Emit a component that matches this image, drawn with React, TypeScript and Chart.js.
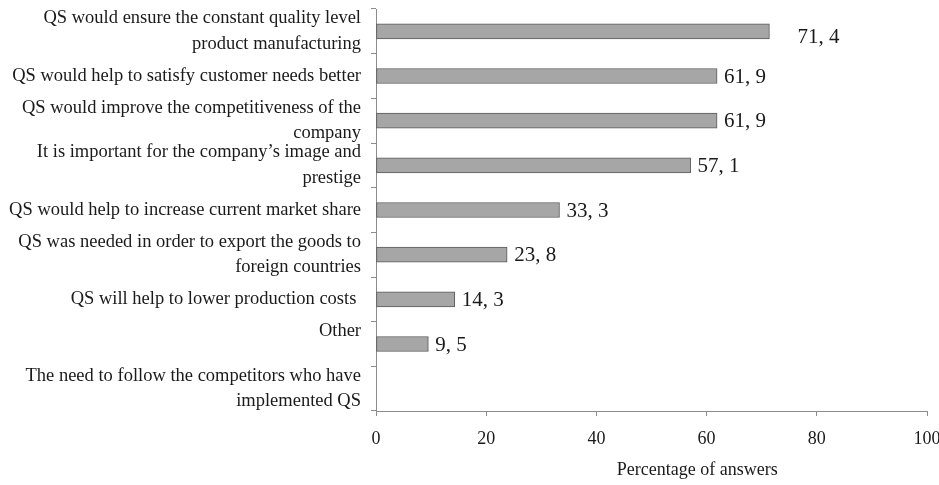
import React, { useEffect, useRef } from "react";
import { Chart, registerables } from "chart.js";

Chart.register(...registerables);

const categories: (string | string[])[] = [
  ["QS would ensure the constant quality level", "product manufacturing"],
  "QS would help to satisfy customer needs better",
  ["QS would improve the competitiveness of the", "company"],
  ["It is important for the company\u2019s image and", "prestige"],
  "QS would help to increase current market share",
  ["QS was needed in order to export the goods to", "foreign countries"],
  "QS will help to lower production costs ",
  ["Other", ""],
  ["The need to follow the competitors who have", "implemented QS"],
];

const values: (number | null)[] = [71.4, 61.9, 61.9, 57.1, 33.3, 23.8, 14.3, 9.5, null];

const xTicks = [0, 20, 40, 60, 80, 100];
const xTitle = "Percentage of answers";

const FONT = "'Liberation Serif', 'Times New Roman', serif";

const valueLabels = {
  id: "valueLabels",
  afterDatasetsDraw(chart: any) {
    const ctx = chart.ctx;
    const meta = chart.getDatasetMeta(0);
    ctx.save();
    ctx.font = `21px ${FONT}`;
    ctx.fillStyle = "#1a1a1a";
    ctx.textBaseline = "middle";
    ctx.textAlign = "left";
    meta.data.forEach((bar: any, i: number) => {
      const v = values[i];
      if (v === null || v === undefined) return;
      const txt = v.toFixed(1).replace(".", ", ");
      const dx = i === 0 ? 28 : 7;
      const dy = i === 0 ? 6 : 1;
      ctx.fillText(txt, bar.x + dx, bar.y + dy);
    });
    ctx.restore();
  },
};

const axisTitle = {
  id: "axisTitle",
  afterDraw(chart: any) {
    const ctx = chart.ctx;
    const xs = chart.scales.x;
    ctx.save();
    ctx.font = `18px ${FONT}`;
    ctx.fillStyle = "#1a1a1a";
    ctx.textAlign = "center";
    ctx.textBaseline = "middle";
    const cx = xs.getPixelForValue(58.3);
    ctx.fillText(xTitle, cx, xs.bottom - 15);
    ctx.restore();
  },
};

export default function App() {
  const ref = useRef<HTMLCanvasElement | null>(null);

  useEffect(() => {
    if (!ref.current) return;
    const chart = new Chart(ref.current, {
      type: "bar",
      data: {
        labels: categories,
        datasets: [
          {
            data: values,
            backgroundColor: "#a6a6a6",
            borderColor: "#5a5a5a",
            borderWidth: 1,
            borderSkipped: false,
            barThickness: 15,
          },
        ],
      },
      options: {
        indexAxis: "y",
        animation: false,
        responsive: true,
        maintainAspectRatio: false,
        layout: { padding: { top: 9, right: 12, left: 0, bottom: 0 } },
        plugins: {
          legend: { display: false },
          tooltip: { enabled: false },
        },
        scales: {
          x: {
            min: 0,
            max: 100,
            afterBuildTicks: (scale: any) => {
              scale.ticks = xTicks.map((v) => ({ value: v }));
            },
            afterFit: (scale: any) => {
              scale.height = 74;
              scale.paddingLeft = 0;
              scale.paddingRight = 0;
            },
            grid: {
              drawOnChartArea: false,
              drawTicks: true,
              tickLength: 5,
              color: "#8c8c8c",
            },
            border: { display: true, color: "#8c8c8c", width: 1 },
            ticks: {
              padding: 12,
              color: "#1a1a1a",
              font: { family: FONT, size: 18 },
              maxRotation: 0,
            },
          },
          y: {
            afterFit: (scale: any) => {
              scale.width = 376;
              scale.paddingTop = 0;
              scale.paddingBottom = 0;
            },
            grid: {
              drawOnChartArea: false,
              drawTicks: true,
              tickLength: 5,
              color: "#8c8c8c",
              offset: true,
            },
            border: { display: true, color: "#8c8c8c", width: 1 },
            ticks: {
              padding: 10,
              color: "#1a1a1a",
              font: { family: FONT, size: 18.5, lineHeight: 1.4 },
              autoSkip: false,
            },
          },
        },
      },
      plugins: [valueLabels, axisTitle],
    });
    return () => chart.destroy();
  }, []);

  return (
    <div
      style={{
        position: "fixed",
        left: 0,
        top: 0,
        width: 939,
        height: 485,
        background: "#ffffff",
      }}
    >
      <canvas ref={ref} />
    </div>
  );
}
